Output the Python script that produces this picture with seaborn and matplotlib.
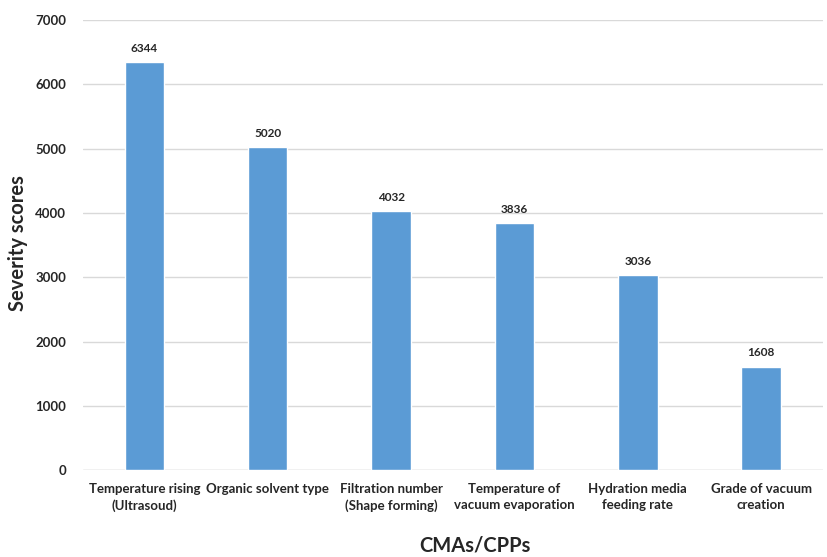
import matplotlib
matplotlib.use("Agg")
import matplotlib.pyplot as plt
import seaborn as sns
import pandas as pd

categories = [
    "Temperature rising\n(Ultrasoud)",
    "Organic solvent type",
    "Filtration number\n(Shape forming)",
    "Temperature of\nvacuum evaporation",
    "Hydration media\nfeeding rate",
    "Grade of vacuum\ncreation",
]
scores = [6344, 5020, 4032, 3836, 3036, 1608]
y_ticks = [0, 1000, 2000, 3000, 4000, 5000, 6000, 7000]

sns.set_theme(style="white")
plt.rcParams["font.family"] = ["Lato", "DejaVu Sans"]

df = pd.DataFrame({"category": categories, "score": scores})

fig = plt.figure(figsize=(8.27, 5.57), dpi=100)
ax = fig.add_axes([0.1, 0.156, 0.895, 0.808])

sns.barplot(data=df, x="category", y="score", color="#5B9BD5",
            saturation=1, width=0.32, ax=ax, zorder=3)

ax.set_ylim(0, 7000)
ax.set_yticks(y_ticks)
ax.yaxis.grid(True, color="#D9D9D9", linewidth=1, zorder=0)
ax.set_axisbelow(True)
for s in ax.spines.values():
    s.set_visible(False)
ax.axhline(0, color="#D9D9D9", linewidth=1, zorder=1)

ax.tick_params(axis="both", length=0, labelsize=9.5)
ax.tick_params(axis="x", pad=9)
ax.tick_params(axis="y", pad=12)
for lbl in ax.get_xticklabels() + ax.get_yticklabels():
    lbl.set_fontweight("bold")
    lbl.set_color("#262626")
for lbl in ax.get_xticklabels():
    lbl.set_multialignment("center")
    lbl.set_linespacing(1.45)

for container in ax.containers:
    ax.bar_label(container, labels=[str(v) for v in scores], padding=6,
                 fontsize=8.5, fontweight="bold", color="#262626")

ax.set_xlabel("CMAs/CPPs", fontsize=14.5, fontweight="bold", va="center")
ax.xaxis.set_label_coords(0.53, -0.167)
ax.set_ylabel("Severity scores", fontsize=14.5, fontweight="bold", va="center")
ax.yaxis.set_label_coords(-0.087, 0.505)

fig.savefig("out.png", dpi=100)
